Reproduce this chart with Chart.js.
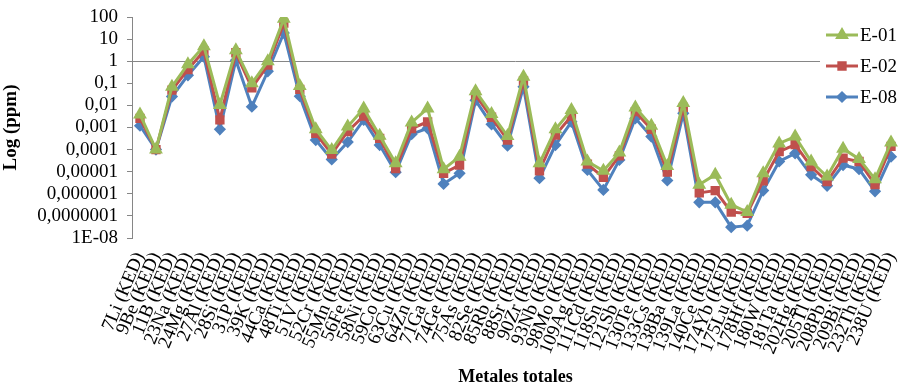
<!DOCTYPE html>
<html>
<head>
<meta charset="utf-8">
<script src="https://cdn.jsdelivr.net/npm/chart.js@4.4.1/dist/chart.umd.min.js"></script>
<style>
  html, body { margin: 0; padding: 0; background: #fff; }
  #wrap { width: 899px; height: 388px; }
</style>
</head>
<body>
<div id="wrap"><canvas id="metalsChart" width="899" height="388"></canvas></div>
<script>
const elements = ['7Li', '9Be', '11B', '23Na', '24Mg', '27Al', '28Si', '31P', '39K', '44Ca',
    '48Ti', '51V', '52Cr', '55Mn', '56Fe', '58Ni', '59Co', '63Cu', '64Zn', '71Ga',
    '74Ge', '75As', '82Se', '85Rb', '88Sr', '90Zr', '93Nb', '98Mo', '109Ag', '111Cd',
    '118Sn', '121Sb', '130Te', '133Cs', '138Ba', '139La', '140Ce', '174Yb', '175Lu', '178Hf',
    '180W', '181Ta', '202Hg', '205Tl', '208Pb', '209Bi', '232Th', '238U'];

const e01 = [0.0039, 0.0001, 0.07, 0.73, 4.7, 0.0104, 3.1, 0.1, 1.0, 83,
    0.075, 0.00083, 0.000095, 0.0011, 0.0072, 0.00042, 0.000024, 0.0017, 0.0073, 0.000013,
    0.000048, 0.044, 0.0041, 0.00041, 0.2, 0.000024, 0.00083, 0.0062, 0.000029, 0.000011,
    0.000073, 0.0081, 0.0012, 0.000018, 0.013, 0.0000026, 0.0000073, 0.00000032, 0.00000015, 0.0000085,
    0.00019, 0.00039, 0.000029, 0.000006, 0.00011, 0.000038, 0.0000046, 0.00021];

const e02 = [0.0026, 0.0001, 0.049, 0.42, 2.9, 0.0022, 2.4, 0.063, 0.66, 53,
    0.053, 0.00054, 0.000063, 0.00066, 0.0033, 0.00032, 0.000014, 0.0009, 0.0018, 0.0000085,
    0.00002, 0.029, 0.0029, 0.00027, 0.13, 0.000011, 0.00046, 0.0033, 0.000022, 0.0000055,
    0.000052, 0.0052, 0.00083, 0.0000095, 0.0081, 0.0000011, 0.0000014, 0.00000015, 0.00000013, 0.0000039,
    0.000081, 0.00017, 0.000017, 0.0000036, 0.000041, 0.000029, 0.0000026, 0.00014];

const e08 = [0.0012, 0.0001, 0.025, 0.23, 1.6, 0.00083, 1.1, 0.0087, 0.35, 19,
    0.026, 0.00027, 0.000036, 0.00022, 0.0022, 0.00016, 0.0000095, 0.0005, 0.00092, 0.0000028,
    0.0000085, 0.017, 0.0014, 0.00015, 0.07, 0.0000051, 0.00016, 0.0018, 0.000012, 0.0000015,
    0.000034, 0.0026, 0.00039, 0.000004, 0.0044, 0.00000041, 0.00000041, 0.000000031, 0.000000036, 0.0000014,
    0.000029, 0.000068, 0.0000072, 0.0000023, 0.00002, 0.000013, 0.0000013, 0.000048];

// tick labels from top (100) down to 1E-08
const yTickLabels = ['100', '10', '1', '0,1', '0,01', '0,001', '0,0001', '0,00001',
    '0,000001', '0,0000001', '1E-08'];
const yTickValues = [1e-8, 1e-7, 1e-6, 1e-5, 1e-4, 1e-3, 1e-2, 1e-1, 1, 10, 100];
const axisCrossValue = 1;

const FONT = "'Liberation Serif', 'Times New Roman', serif";
const AXIS_GRAY = '#868686';

const labels = elements.map(e => e + ' (KED)');

// the category axis crosses the log axis at 1: draw that line under the series
const crossLine = {
    id: 'crossLine',
    beforeDatasetsDraw(chart) {
        const ctx = chart.ctx;
        const area = chart.chartArea;
        const y = Math.round(chart.scales.y.getPixelForValue(axisCrossValue)) + 0.5;
        ctx.save();
        ctx.strokeStyle = AXIS_GRAY;
        ctx.lineWidth = 1;
        ctx.beginPath();
        ctx.moveTo(area.left, y);
        ctx.lineTo(area.right, y);
        ctx.stroke();
        ctx.restore();
    }
};

// legend drawn over the plot area, with a white box like the original
const overlayLegend = {
    id: 'overlayLegend',
    afterDraw(chart) {
        const ctx = chart.ctx;
        ctx.save();
        ctx.fillStyle = '#fff';
        ctx.fillRect(820, 14, 79, 98);
        chart.data.datasets.forEach((ds, i) => {
            const y = 35 + i * 31;
            ctx.strokeStyle = ds.borderColor;
            ctx.lineWidth = 3;
            ctx.beginPath();
            ctx.moveTo(826, y);
            ctx.lineTo(858, y);
            ctx.stroke();
            Chart.helpers.drawPoint(ctx, {
                pointStyle: ds.pointStyle,
                radius: ds.pointRadius,
                rotation: 0,
                borderWidth: 1
            }, 842, y);
            ctx.fillStyle = ds.borderColor;
            ctx.fill();
            ctx.fillStyle = '#000';
            ctx.font = '19px ' + FONT;
            ctx.textAlign = 'left';
            ctx.textBaseline = 'middle';
            ctx.fillText(ds.label, 860, y + 1);
        });
        ctx.restore();
    }
};

const ctx = document.getElementById('metalsChart').getContext('2d');

new Chart(ctx, {
    type: 'line',
    data: {
        labels: labels,
        datasets: [
            {
                label: 'E-01',
                data: e01,
                borderColor: '#9bbb59',
                backgroundColor: '#9bbb59',
                pointBackgroundColor: '#9bbb59',
                pointBorderColor: '#9bbb59',
                pointStyle: 'triangle',
                pointRadius: 5,
                borderWidth: 3,
                tension: 0
            },
            {
                label: 'E-02',
                data: e02,
                borderColor: '#c0504d',
                backgroundColor: '#c0504d',
                pointBackgroundColor: '#c0504d',
                pointBorderColor: '#c0504d',
                pointStyle: 'rect',
                pointRadius: 4.5,
                borderWidth: 3,
                tension: 0
            },
            {
                label: 'E-08',
                data: e08,
                borderColor: '#4f81bd',
                backgroundColor: '#4f81bd',
                pointBackgroundColor: '#4f81bd',
                pointBorderColor: '#4f81bd',
                pointStyle: 'rectRot',
                pointRadius: 4,
                borderWidth: 3,
                tension: 0
            }
        ]
    },
    options: {
        responsive: false,
        animation: false,
        devicePixelRatio: 1,
        layout: {
            autoPadding: false,
            padding: { top: 17, right: 0, left: 0, bottom: 0 }
        },
        plugins: {
            legend: { display: false },
            tooltip: { enabled: false }
        },
        scales: {
            x: {
                offset: true,
                grid: { display: false, drawTicks: false },
                border: { display: false },
                ticks: {
                    autoSkip: false,
                    minRotation: 67,
                    maxRotation: 67,
                    padding: 11,
                    color: '#000',
                    font: { family: FONT, size: 19 }
                },
                title: {
                    display: true,
                    text: 'Metales totales',
                    color: '#000',
                    padding: { top: 0, bottom: 0 },
                    font: { family: FONT, size: 18, weight: 'bold' }
                },
                afterFit: function(scale) {
                    scale.height = 150;
                    scale.paddingLeft = 0;
                    scale.paddingRight = 0;
                }
            },
            y: {
                type: 'logarithmic',
                min: 1e-8,
                max: 100,
                afterBuildTicks: function(scale) {
                    scale.ticks = yTickValues.map(v => ({ value: v }));
                },
                grid: {
                    drawOnChartArea: false,
                    tickColor: AXIS_GRAY,
                    tickLength: 5,
                    lineWidth: 1
                },
                border: { display: true, color: AXIS_GRAY },
                ticks: {
                    autoSkip: false,
                    padding: 9,
                    color: '#000',
                    font: { family: FONT, size: 19 },
                    callback: function(value) {
                        const idx = 2 - Math.round(Math.log10(value));
                        return yTickLabels[idx];
                    }
                },
                title: {
                    display: true,
                    text: 'Log (ppm)',
                    color: '#000',
                    padding: { top: 0, bottom: 0 },
                    font: { family: FONT, size: 19, weight: 'bold' }
                },
                afterFit: function(scale) {
                    scale.width = 132;
                    scale.paddingTop = 0;
                    scale.paddingBottom = 0;
                }
            }
        }
    },
    plugins: [crossLine, overlayLegend]
});
</script>
</body>
</html>
